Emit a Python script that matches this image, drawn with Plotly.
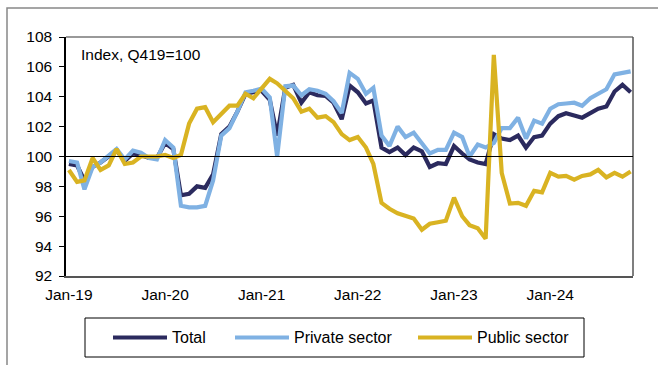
import plotly.graph_objects as go
import pandas as pd

months = pd.date_range("2019-01-01", periods=71, freq="MS")

total = [99.5, 99.4, 98.4, 99.3, 99.6, 100.0, 100.4, 99.7, 100.2, 100.1, 99.9, 99.9,
         100.9, 100.5, 97.4, 97.5, 98.0, 97.9, 98.8, 101.5, 102.0, 103.0, 104.2, 104.3,
         104.4, 103.8, 101.4, 104.6, 104.8, 103.6, 104.3, 104.1, 104.05, 103.6, 102.5, 104.75,
         104.3, 103.55, 103.75, 100.6, 100.3, 100.6, 100.1, 100.6, 100.35, 99.3, 99.55, 99.5,
         100.7, 100.2, 99.8, 99.6, 99.5, 101.5, 101.2, 101.1, 101.4, 100.6, 101.3, 101.4,
         102.2, 102.7, 102.9, 102.75, 102.6, 102.9, 103.2, 103.35, 104.35, 104.8, 104.3]

private = [99.7, 99.6, 97.8, 99.3, 99.6, 100.1, 100.5, 99.8, 100.4, 100.25, 99.9, 99.8,
           101.1, 100.6, 96.7, 96.6, 96.6, 96.7, 98.4, 101.4, 101.9, 103.0, 104.3, 104.4,
           104.55, 103.95, 100.0, 104.7, 104.75, 104.1, 104.5, 104.4, 104.2, 103.7, 102.9, 105.6,
           105.2, 104.2, 104.6, 101.4, 100.7, 102.0, 101.3, 101.6, 100.9, 100.2, 100.45, 100.45,
           101.6, 101.3, 100.0, 100.8, 100.6, 100.9, 101.9, 101.9, 102.6, 101.2, 102.4, 102.2,
           103.2, 103.5, 103.55, 103.6, 103.4, 103.9, 104.2, 104.5, 105.5, 105.6, 105.7]

public = [99.1, 98.3, 98.4, 99.9, 99.1, 99.4, 100.5, 99.5, 99.6, 100.0, 100.0, 100.0,
          100.1, 99.9, 100.1, 102.2, 103.2, 103.3, 102.3, 102.9, 103.4, 103.4, 104.2, 103.9,
          104.5, 105.2, 104.9, 104.4, 103.9, 103.0, 103.2, 102.6, 102.7, 102.3, 101.5, 101.1,
          101.3, 100.6, 99.5, 96.9, 96.5, 96.2, 96.0, 95.85, 95.1, 95.5, 95.6, 95.7,
          97.25, 96.0, 95.4, 95.2, 94.5, 106.8, 98.9, 96.85, 96.9, 96.7, 97.7, 97.6,
          98.9, 98.65, 98.7, 98.45, 98.7, 98.8, 99.1, 98.6, 98.9, 98.65, 99.0]

series_names = ["Total", "Private sector", "Public sector"]
series_colors = ["#2b2a5e", "#7fb1e3", "#d9b322"]
y_ticks = [92, 94, 96, 98, 100, 102, 104, 106, 108]
x_tick_labels = ["Jan-19", "Jan-20", "Jan-21", "Jan-22", "Jan-23", "Jan-24"]
baseline = 100
note_text = "Index, Q419=100"

W, H = 658, 365
L, R, T, B = 66, 633, 37, 276
FONT = "Liberation Sans, Arial, sans-serif"

def px(x):
    return (x - L) / (R - L)

def py(y):
    return (B - y) / (B - T)

fig = go.Figure()
for name, vals, col in zip(series_names, [total, private, public], series_colors):
    fig.add_trace(go.Scatter(x=months, y=vals, mode="lines", name=name,
                             line=dict(color=col, width=4.2), showlegend=False))

tickdates = [pd.Timestamp(f"20{s[-2:]}-01-01") for s in x_tick_labels]

fig.update_layout(
    width=W, height=H,
    margin=dict(l=L, r=W - R, t=T, b=H - B),
    paper_bgcolor="white", plot_bgcolor="white",
    font=dict(family=FONT, size=15, color="black"),
    xaxis=dict(range=["2018-12-21", "2024-11-10"], tickvals=tickdates, ticktext=x_tick_labels,
               showgrid=False, zeroline=False, showline=True, linecolor="#555555", linewidth=1.5,
               ticks="", tickfont=dict(size=15.5), ticklabelstandoff=4),
    yaxis=dict(range=[92, 108], tickvals=y_ticks, showgrid=False, zeroline=False,
               showline=True, linecolor="black", linewidth=1.5, ticks="outside", ticklen=5,
               tickcolor="black", tickfont=dict(size=15.5), ticklabelstandoff=4),
)

shapes = []
# plot area border (top and right)
shapes.append(dict(type="line", xref="paper", yref="paper", x0=0, x1=1, y0=1, y1=1,
                   line=dict(color="#777777", width=1.5)))
shapes.append(dict(type="line", xref="paper", yref="paper", x0=1, x1=1, y0=0, y1=1,
                   line=dict(color="#555555", width=1.5)))
# baseline at 100
shapes.append(dict(type="line", xref="paper", yref="y", x0=0, x1=1, y0=baseline, y1=baseline,
                   line=dict(color="black", width=1.2)))
# outer frame
shapes.append(dict(type="rect", xref="paper", yref="paper", x0=px(7), x1=px(700), y0=py(8), y1=py(400),
                   line=dict(color="#888888", width=1.5)))
# legend box
shapes.append(dict(type="rect", xref="paper", yref="paper", x0=px(85), x1=px(584), y0=py(318), y1=py(357),
                   line=dict(color="black", width=1)))
leg_x = [(113, 167), (235, 289), (418, 472)]
annotations = []
for (a, b), name, col in zip(leg_x, series_names, series_colors):
    shapes.append(dict(type="line", xref="paper", yref="paper", x0=px(a), x1=px(b), y0=py(337.5), y1=py(337.5),
                       line=dict(color=col, width=4.2)))
    annotations.append(dict(xref="paper", yref="paper", x=px(b + 3), y=py(337.5), text=name,
                            showarrow=False, xanchor="left", yanchor="middle",
                            font=dict(size=16, family=FONT)))
annotations.append(dict(xref="paper", yref="paper", x=px(79), y=py(55), text=note_text,
                        showarrow=False, xanchor="left", yanchor="middle",
                        font=dict(size=15.5, family=FONT)))
fig.update_layout(shapes=shapes, annotations=annotations)

fig.write_html("out.html")
